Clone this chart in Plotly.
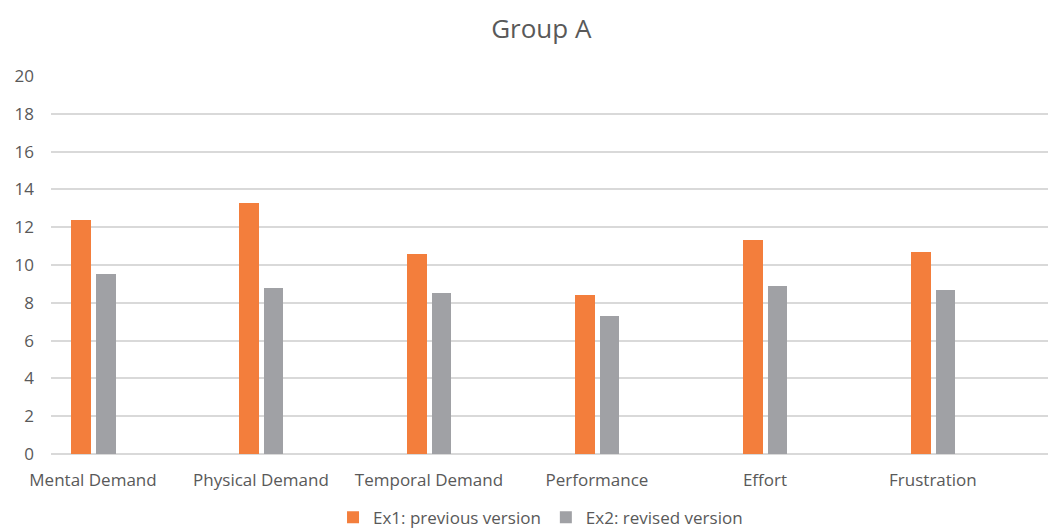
import plotly.graph_objects as go

# NASA-TLX workload dimensions and mean scores
categories = ["Mental Demand", "Physical Demand", "Temporal Demand",
              "Performance", "Effort", "Frustration"]
ex1_previous = [12.4, 13.3, 10.6, 8.4, 11.3, 10.7]
ex2_revised = [9.5, 8.8, 8.5, 7.3, 8.9, 8.7]
y_ticks = [0, 2, 4, 6, 8, 10, 12, 14, 16, 18, 20]

FONT = "Open Sans, Noto Sans, sans-serif"
TEXT = "#595959"
GRID = "#D9D9D9"

fig = go.Figure()
fig.add_trace(go.Bar(
    x=categories, y=ex1_previous, name="Ex1: previous version",
    marker=dict(color="#F37E3C", line=dict(width=0)),
    width=0.116, offset=-0.128,
))
fig.add_trace(go.Bar(
    x=categories, y=ex2_revised, name="Ex2: revised version",
    marker=dict(color="#A0A1A5", line=dict(width=0)),
    width=0.116, offset=0.018,
))

fig.update_layout(
    width=1049, height=531,
    margin=dict(l=51, r=1, t=76, b=77, autoexpand=False),
    paper_bgcolor="white", plot_bgcolor="white",
    font=dict(family=FONT, size=17, color=TEXT),
    title=dict(text="Group A", x=0.516, xanchor="center", y=0.945, yanchor="middle",
               font=dict(family=FONT, size=26, color=TEXT)),
    showlegend=True,
    legend=dict(orientation="h", x=0.491, xanchor="center", xref="paper",
                y=0.025, yref="container", yanchor="middle",
                font=dict(family=FONT, size=17, color=TEXT),
                itemwidth=30, traceorder="normal"),
    bargap=0,
)
fig.update_xaxes(
    type="category", range=[-0.25, 5.685],
    showgrid=False, showline=False, zeroline=False,
    ticks="", ticklabelstandoff=14,
    tickfont=dict(family=FONT, size=17, color=TEXT),
)
fig.update_yaxes(
    range=[0, 20], tickvals=y_ticks, showgrid=True, gridcolor=GRID, gridwidth=2,
    zeroline=True, zerolinecolor=GRID, zerolinewidth=2, showline=False,
    ticks="", ticklabelstandoff=16,
    tickfont=dict(family=FONT, size=17, color=TEXT),
)

fig.write_html("out.html")
